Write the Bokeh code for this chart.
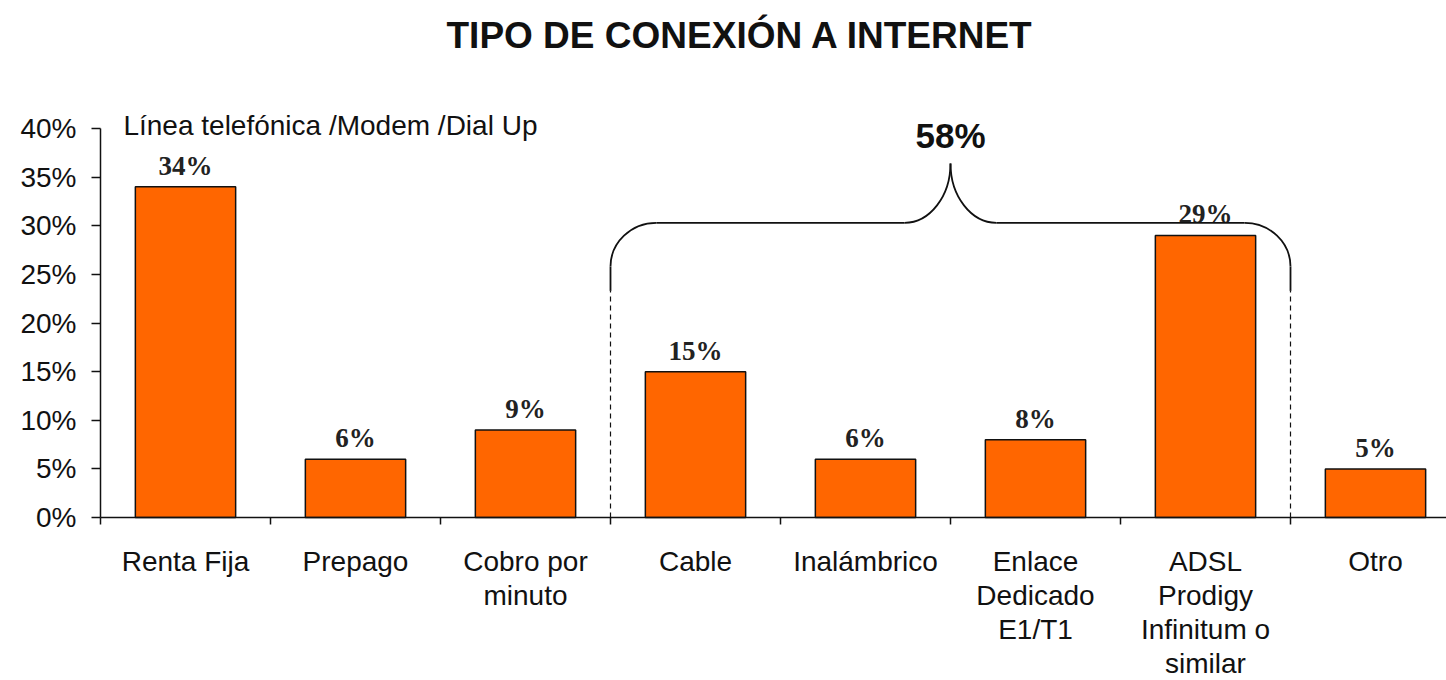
from bokeh.plotting import figure
from bokeh.models import (ColumnDataSource, Range1d, FixedTicker, PrintfTickFormatter, Label,
                          LinearAxis)
from bokeh.core.properties import value
from bokeh.embed import file_html
from bokeh.resources import INLINE

# ---- data ----
title_text = "TIPO DE CONEXIÓN A INTERNET"
categories = ["Renta Fija", "Prepago", "Cobro por\nminuto", "Cable", "Inalámbrico",
              "Enlace\nDedicado\nE1/T1", "ADSL\nProdigy\nInfinitum o\nsimilar", "Otro"]
values = [34, 6, 9, 15, 6, 8, 29, 5]
y_ticks = [0, 5, 10, 15, 20, 25, 30, 35, 40]
dialup_label = "Línea telefónica /Modem /Dial Up"
group_label = "58%"
group_first, group_last = 3, 6   # Cable ... ADSL

# ---- derived ----
xs = [i + 0.5 for i in range(len(categories))]
labels = [f"{v}%" for v in values]
src = ColumnDataSource(dict(x=xs, top=values, label=labels))

FONT = "Liberation Sans"
TXT = "#111111"

# layout: frame fills the figure below the title; axes are pinned at x=0 / y=0
W, H, TOP = 1446, 680, 64
PX_PER_CAT = 170.0
PX_PER_PCT = 9.725
AXIS_X_PX = 100       # x pixel of the y axis
AXIS_Y_PX = 517       # y pixel of the x axis
x_start = -AXIS_X_PX / PX_PER_CAT
x_end = (W - AXIS_X_PX) / PX_PER_CAT
y_end = (AXIS_Y_PX - TOP) / PX_PER_PCT
y_start = -(H - AXIS_Y_PX) / PX_PER_PCT

p = figure(width=W, height=H, x_range=Range1d(x_start, x_end), y_range=Range1d(y_start, y_end),
           output_backend="svg", toolbar_location=None, x_axis_type=None, y_axis_type=None,
           min_border_left=0, min_border_right=0, min_border_top=TOP, min_border_bottom=0)
p.outline_line_color = None
p.grid.visible = False
p.background_fill_color = "white"

# title
p.title.text = title_text
p.title.align = "left"
p.title.offset = 446
p.title.text_font = FONT
p.title.text_font_size = "37px"
p.title.text_font_style = "bold"
p.title.text_color = TXT
p.title.standoff = 18
p.title.text_line_height = 0.75

# bars
p.vbar(x="x", top="top", width=0.59, source=src, fill_color="#FF6600",
       line_color="#111111", line_width=1.5)
p.text(x="x", y="top", text="label", source=src, text_align="center", text_baseline="bottom",
       y_offset=-6, text_font=value("Liberation Serif"), text_font_style="bold",
       text_font_size="27px", text_color="#222222")

# x axis (category boundaries as ticks, names centred between them)
xa = LinearAxis(fixed_location=0, bounds=(0, x_end))
xa.ticker = FixedTicker(ticks=xs, minor_ticks=list(range(len(categories) + 1)))
xa.major_label_overrides = {x: c for x, c in zip(xs, categories)}
xa.major_tick_out = 0
xa.major_tick_in = 0
xa.minor_tick_out = 7
xa.minor_tick_in = 0
xa.minor_tick_line_color = "#111111"
xa.minor_tick_line_width = 1.5
xa.axis_line_color = "#111111"
xa.axis_line_width = 1.5
xa.major_label_text_font = FONT
xa.major_label_text_font_size = "28px"
xa.major_label_text_color = TXT
xa.major_label_text_line_height = 1.1
xa.major_label_standoff = 21
p.add_layout(xa, "below")

# y axis
ya = LinearAxis(fixed_location=0, bounds=(0, 40))
ya.ticker = FixedTicker(ticks=y_ticks, minor_ticks=[])
ya.formatter = PrintfTickFormatter(format="%d%%")
ya.major_tick_out = 9
ya.major_tick_in = 0
ya.minor_tick_out = 0
ya.major_tick_line_color = "#111111"
ya.major_tick_line_width = 1.5
ya.axis_line_color = "#111111"
ya.axis_line_width = 1.5
ya.major_label_text_font = FONT
ya.major_label_text_font_size = "28px"
ya.major_label_text_color = TXT
ya.major_label_standoff = 15
p.add_layout(ya, "left")

# dial-up note
p.add_layout(Label(x=0.135, y=40.3, text=dialup_label, text_align="left", text_baseline="middle",
                   text_font=FONT, text_font_size="28px", text_color=TXT))

# brace over the broadband group
xl = float(group_first)
xr = float(group_last + 1)
xm = (xl + xr) / 2
y_e, y_bend, y_bar, y_peak = 23.3, 25.8, 30.3, 36.4
cw = 0.27   # corner width (data units)
iw = 0.27   # inner curve width
lc, lw = "#111111", 1.8
p.segment(x0=[xl, xr], y0=[0, 0], x1=[xl, xr], y1=[y_e, y_e],
          line_color=lc, line_width=1.2, line_dash="5 4")
p.segment(x0=[xl, xr, xl + cw, xm + iw], y0=[y_e, y_e, y_bar, y_bar],
          x1=[xl, xr, xm - iw, xr - cw], y1=[y_bend, y_bend, y_bar, y_bar],
          line_color=lc, line_width=lw)
p.bezier(x0=[xl, xr, xm - iw, xm + iw], y0=[y_bend, y_bend, y_bar, y_bar],
         x1=[xl + cw, xr - cw, xm, xm], y1=[y_bar, y_bar, y_peak, y_peak],
         cx0=[xl, xr, xm - iw * 0.45, xm + iw * 0.45],
         cy0=[y_bend + (y_bar - y_bend) * 0.55] * 2 + [y_bar, y_bar],
         cx1=[xl + cw * 0.45, xr - cw * 0.45, xm, xm],
         cy1=[y_bar, y_bar] + [y_peak - (y_peak - y_bar) * 0.55] * 2,
         line_color=lc, line_width=lw)
p.add_layout(Label(x=xm, y=39.3, text=group_label, text_align="center", text_baseline="middle",
                   text_font=FONT, text_font_size="35px", text_font_style="bold", text_color=TXT))

open("out.html", "w").write(file_html(p, INLINE))
